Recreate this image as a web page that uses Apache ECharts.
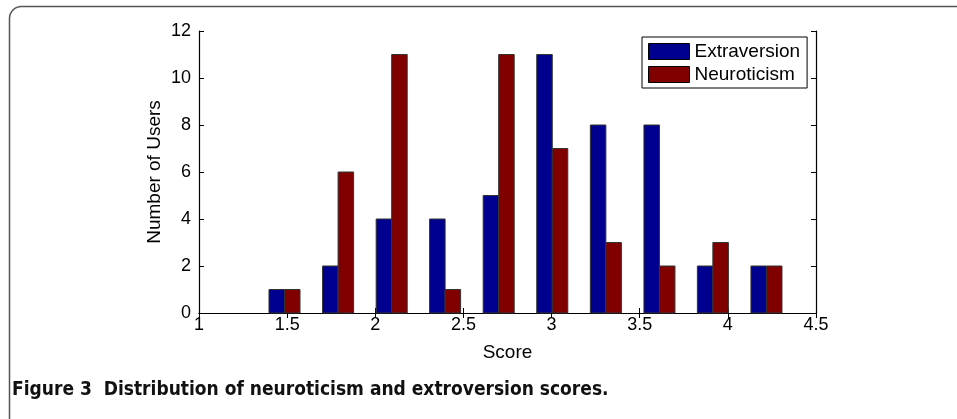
<!DOCTYPE html>
<html>
<head>
<meta charset="utf-8">
<script src="https://cdn.jsdelivr.net/npm/echarts@6/dist/echarts.min.js"></script>
<style>
html,body{margin:0;padding:0;background:#fff;}
#c{width:957px;height:419px;}
</style>
</head>
<body>
<div id="c"></div>
<script>
// Data
const binCenters = [1.485, 1.789, 2.093, 2.396, 2.700, 3.004, 3.308, 3.612, 3.915, 4.219];
const extraversion = [1, 2, 4, 4, 5, 11, 8, 8, 2, 2];
const neuroticism = [1, 6, 11, 1, 11, 7, 3, 2, 3, 2];
const seriesNames = ['Extraversion', 'Neuroticism'];
const xTicks = [1, 1.5, 2, 2.5, 3, 3.5, 4, 4.5];
const yTicks = [0, 2, 4, 6, 8, 10, 12];
const captionText = 'Figure 3  Distribution of neuroticism and extroversion scores.';

const BAR_W = 0.088; // bar width in data units
const colors = ['#00008F', '#800000'];
const font = '"Liberation Sans", Arial, Helvetica, sans-serif';

function makeBarSeries(name, values, side, color) {
  return {
    name: name,
    type: 'custom',
    xAxisIndex: 0, yAxisIndex: 0,
    data: binCenters.map((c, i) => [c, values[i]]),
    itemStyle: { color: color },
    renderItem: function (params, api) {
      const c = api.value(0), v = api.value(1);
      const x0 = side < 0 ? c - BAR_W : c;
      const x1 = side < 0 ? c : c + BAR_W;
      const p0 = api.coord([x0, v]);
      const p1 = api.coord([x1, 0]);
      return {
        type: 'rect',
        shape: { x: p0[0], y: p0[1], width: p1[0] - p0[0], height: p1[1] - p0[1] },
        style: { fill: color, stroke: '#333', lineWidth: 1 }
      };
    }
  };
}

const chart = echarts.init(document.getElementById('c'), null, { renderer: 'canvas' });
const axisCommon = {
  axisLine: { show: true, lineStyle: { color: '#000', width: 1.2 } },
  axisTick: { show: true, inside: true, length: 5, lineStyle: { color: '#000', width: 1 } },
  splitLine: { show: false },
  nameMoveOverlap: false
};
chart.setOption({
  animation: false,
  backgroundColor: '#fff',
  grid: { left: 199, right: 141, top: 31, bottom: 106 },
  legend: {
    orient: 'vertical',
    left: 642, top: 37,
    padding: [5, 7, 4, 6],
    itemGap: 4,
    itemWidth: 41, itemHeight: 16,
    backgroundColor: '#fff',
    borderColor: '#000', borderWidth: 1, borderRadius: 0,
    icon: 'rect',
    textStyle: { fontFamily: font, fontSize: 19, color: '#000', padding: [0, 0, 0, 0] },
    itemStyle: { borderColor: '#000', borderWidth: 1 },
    data: seriesNames.map((n, i) => ({ name: n, itemStyle: { color: colors[i] } }))
  },
  xAxis: [
    Object.assign({}, axisCommon, {
      type: 'value', min: 1, max: 4.5, interval: 0.5, position: 'bottom',
      name: 'Score', nameLocation: 'middle', nameGap: 30,
      nameTextStyle: { fontFamily: font, fontSize: 19, color: '#000' },
      axisLabel: { fontFamily: font, fontSize: 18, color: '#000', margin: 3,
        formatter: v => xTicks.indexOf(v) >= 0 ? String(v) : '' }
    }),
    Object.assign({}, axisCommon, {
      type: 'value', min: 1, max: 4.5, interval: 0.5, position: 'top',
      axisLabel: { show: false }
    })
  ],
  yAxis: [
    Object.assign({}, axisCommon, {
      type: 'value', min: 0, max: 12, interval: 2, position: 'left',
      name: 'Number of Users', nameLocation: 'middle', nameGap: 35,
      nameTextStyle: { fontFamily: font, fontSize: 19, color: '#000' },
      axisLabel: { fontFamily: font, fontSize: 18, color: '#000', margin: 8,
        formatter: v => yTicks.indexOf(v) >= 0 ? String(v) : '' }
    }),
    Object.assign({}, axisCommon, {
      type: 'value', min: 0, max: 12, interval: 2, position: 'right',
      axisLabel: { show: false }
    })
  ],
  series: [
    makeBarSeries(seriesNames[0], extraversion, -1, colors[0]),
    makeBarSeries(seriesNames[1], neuroticism, 1, colors[1])
  ],
  graphic: [
    {
      type: 'rect', silent: true, z: -10,
      shape: { x: 9.5, y: 6.5, width: 1100, height: 600, r: 12 },
      style: { fill: 'none', stroke: '#555', lineWidth: 1.5 }
    },
    {
      type: 'text', left: 12, top: 381,
      style: { text: captionText, font: 'bold 19px "DejaVu Sans Condensed", "Liberation Sans Narrow", sans-serif', fill: '#111' }
    }
  ]
});
</script>
</body>
</html>
